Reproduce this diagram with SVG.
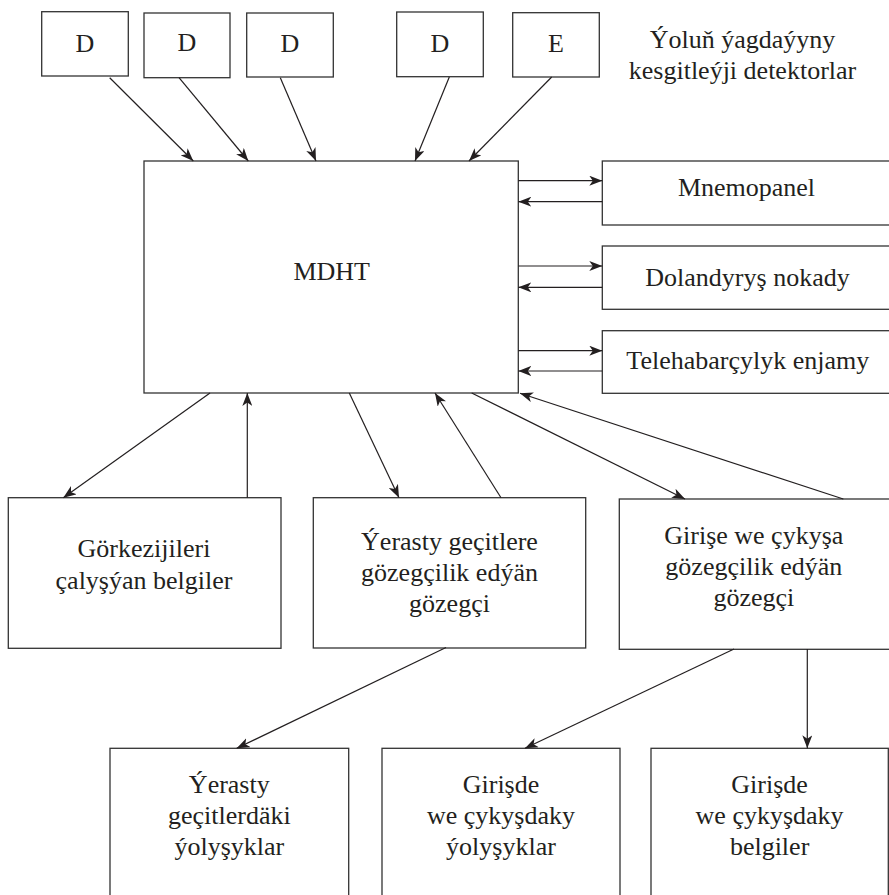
<svg xmlns="http://www.w3.org/2000/svg" width="889" height="895" viewBox="0 0 889 895">
<style>
.box{fill:#fff;stroke:#333;stroke-width:1.3}
.t{font-family:'Liberation Serif','Times New Roman',Tinos,'DejaVu Serif',serif;font-size:26px;fill:#231f20;text-anchor:middle}
.c{fill:none;stroke:#231f20;stroke-width:1.2;marker-end:url(#ah)}
</style>
<defs>
<marker id="ah" markerUnits="userSpaceOnUse" markerWidth="14" markerHeight="10" refX="13" refY="5" orient="auto">
<path d="M0,0 L13,5 L0,10 L3.5,5 z" fill="#231f20"/>
</marker>
</defs>
<rect width="889" height="895" fill="#fff"/>
<g id="d1"><rect class="box" x="41.7" y="11.7" width="86.6" height="64.3"/><text class="t" x="85" y="52">D</text></g>
<g id="d2"><rect class="box" x="144" y="13" width="86" height="64.7"/><text class="t" x="187" y="51">D</text></g>
<g id="d3"><rect class="box" x="246.7" y="13" width="86.6" height="64"/><text class="t" x="290" y="52">D</text></g>
<g id="d4"><rect class="box" x="396.7" y="12" width="86.6" height="64.7"/><text class="t" x="440" y="52">D</text></g>
<g id="e"><rect class="box" x="512.7" y="12.7" width="86.6" height="64.3"/><text class="t" x="556" y="52">E</text></g>
<g id="label"><text class="t" x="742.5" y="48">Ýoluň ýagdaýyny</text><text class="t" x="742.5" y="79">kesgitleýji detektorlar</text></g>
<g id="mdht"><rect class="box" x="144" y="161" width="374.3" height="232"/><text class="t" x="331.7" y="280">MDHT</text></g>
<g id="mnemo"><rect class="box" x="602.3" y="161" width="300" height="64"/><text class="t" x="746.5" y="196">Mnemopanel</text></g>
<g id="dol"><rect class="box" x="602.3" y="246" width="300" height="63.3"/><text class="t" x="747.5" y="286">Dolandyryş nokady</text></g>
<g id="tele"><rect class="box" x="602.3" y="330.7" width="300" height="62.6"/><text class="t" x="747.8" y="369">Telehabarçylyk enjamy</text></g>
<g id="gork"><rect class="box" x="8.3" y="497.7" width="272.7" height="150.6"/><text class="t" x="144" y="557">Görkezijileri</text><text class="t" x="144" y="589">çalyşýan belgiler</text></g>
<g id="yerasty"><rect class="box" x="313.3" y="497.7" width="272.4" height="150.3"/><text class="t" x="449.5" y="550">Ýerasty geçitlere</text><text class="t" x="449.5" y="581">gözegçilik edýän</text><text class="t" x="449.5" y="612">gözegçi</text></g>
<g id="girise"><rect class="box" x="619.3" y="499" width="290" height="150.3"/><text class="t" x="753.8" y="544">Girişe we çykyşa</text><text class="t" x="753.8" y="575">gözegçilik edýän</text><text class="t" x="753.8" y="606">gözegçi</text></g>
<g id="b1"><rect class="box" x="110" y="748.3" width="238.7" height="160"/><text class="t" x="229.3" y="793">Ýerasty</text><text class="t" x="229.3" y="824">geçitlerdäki</text><text class="t" x="229.3" y="855">ýolyşyklar</text></g>
<g id="b2"><rect class="box" x="382" y="748.3" width="238" height="160"/><text class="t" x="501" y="793">Girişde</text><text class="t" x="501" y="824">we çykyşdaky</text><text class="t" x="501" y="855">ýolyşyklar</text></g>
<g id="b3"><rect class="box" x="651" y="748.3" width="237.3" height="160"/><text class="t" x="769.6" y="793">Girişde</text><text class="t" x="769.6" y="824">we çykyşdaky</text><text class="t" x="769.6" y="855">belgiler</text></g>
<g id="connectors">
<line class="c" x1="109.7" y1="77.7" x2="193.3" y2="161"/>
<line class="c" x1="179" y1="77.7" x2="248.3" y2="161"/>
<line class="c" x1="280.3" y1="77.7" x2="316" y2="161"/>
<line class="c" x1="449.3" y1="77" x2="415" y2="161"/>
<line class="c" x1="551.7" y1="77" x2="469" y2="161"/>
<line class="c" x1="518.3" y1="180.7" x2="602.3" y2="180.7"/>
<line class="c" x1="602.3" y1="201.7" x2="518.3" y2="201.7"/>
<line class="c" x1="518.3" y1="266" x2="602.3" y2="266"/>
<line class="c" x1="602.3" y1="287.3" x2="518.3" y2="287.3"/>
<line class="c" x1="518.3" y1="350.7" x2="602.3" y2="350.7"/>
<line class="c" x1="602.3" y1="371" x2="518.3" y2="371"/>
<line class="c" x1="210" y1="393" x2="63.3" y2="497.7"/>
<line class="c" x1="247.3" y1="497.7" x2="247.3" y2="393"/>
<line class="c" x1="349.3" y1="393" x2="399" y2="497.7"/>
<line class="c" x1="501" y1="497.7" x2="435" y2="393"/>
<line class="c" x1="471.7" y1="393" x2="685" y2="499"/>
<line class="c" x1="843.3" y1="499" x2="520" y2="393.3"/>
<line class="c" x1="446" y1="647.5" x2="236.7" y2="748.3"/>
<line class="c" x1="734" y1="649" x2="525" y2="748.3"/>
<line class="c" x1="807.3" y1="649" x2="807.3" y2="748.3"/>
</g>
</svg>
